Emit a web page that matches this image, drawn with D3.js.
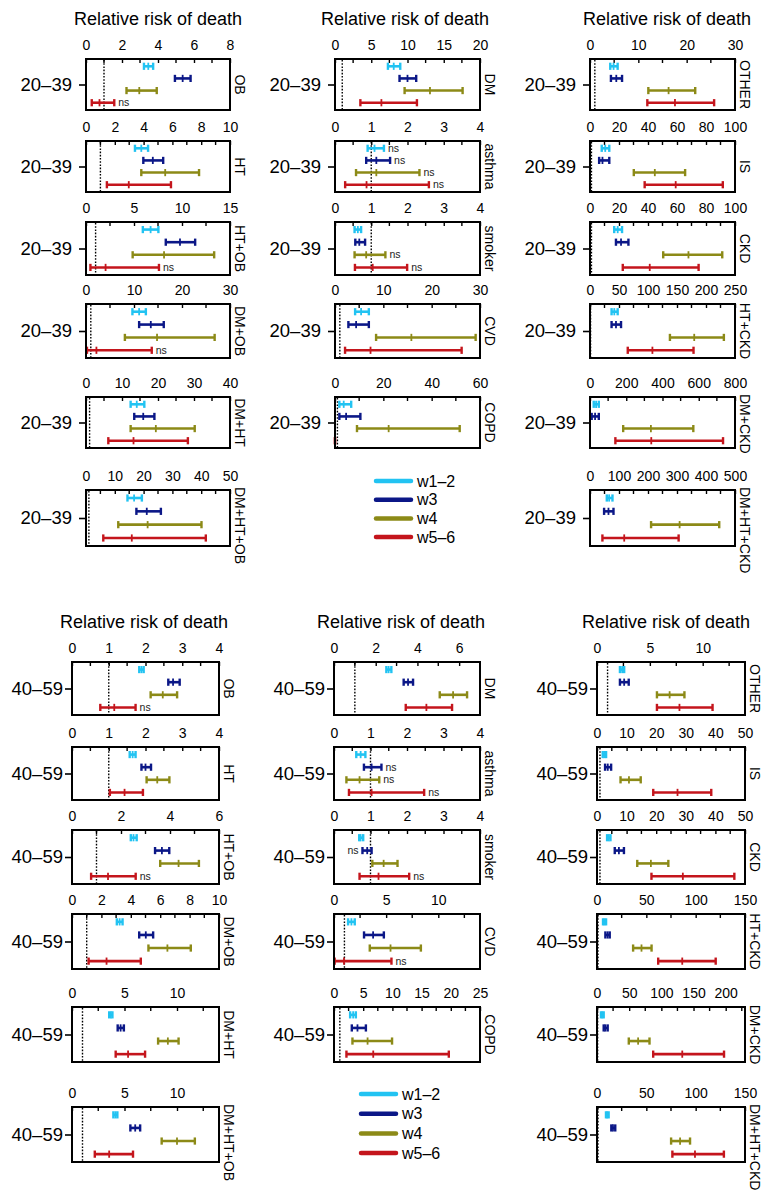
<!DOCTYPE html>
<html><head><meta charset="utf-8">
<script src="https://cdn.jsdelivr.net/npm/d3@7"></script>
<style>
body{margin:0;background:#fff;}
svg text{font-family:"Liberation Sans", Arial, Helvetica, sans-serif;}
</style></head><body>
<svg id="c" width="775" height="1201"></svg>
<script>
// ---------- DATA ----------
const series = ["w1–2","w3","w4","w5–6"];
const seriesColors = ["#22c3f2","#0b1787","#8c8a17","#c4151c"];
const ageGroups = ["20–39","40–59"];
const titleText = "Relative risk of death";

const leftConds  = ["OB","HT","HT+OB","DM+OB","DM+HT","DM+HT+OB"];
const midConds   = ["DM","asthma","smoker","CVD","COPD"];
const rightConds = ["OTHER","IS","CKD","HT+CKD","DM+CKD","DM+HT+CKD"];

// axis maxima and tick steps
const leftMaxYoung  = [8,10,15,30,40,50];   const leftStepYoung  = [2,2,5,10,10,10];
const midMaxYoung   = [20,4,4,30,60];       const midStepYoung   = [5,1,1,10,20];
const rightMaxYoung = [30,100,100,250,800,500]; const rightStepYoung = [10,20,20,50,200,100];
const leftMaxOld    = [4,4,6,10,14,14];     const leftStepOld    = [1,1,2,2,5,5];
const midMaxOld     = [7,4,4,14,25];        const midStepOld     = [2,1,1,5,5];
const rightMaxOld   = [14,50,50,150,230,150]; const rightStepOld = [5,10,10,50,50,50];

// [low, estimate, high] for w1–2, w3, w4, w5–6
const leftYoung = [
  [[3.22,3.46,3.73],[4.94,5.37,5.81],[2.25,2.96,3.93],[0.32,0.75,1.57]],
  [[3.40,3.84,4.31],[3.98,4.64,5.36],[3.84,5.50,7.85],[1.45,2.97,5.90]],
  [[5.92,6.73,7.54],[8.31,9.79,11.37],[4.86,8.13,13.35],[0.46,2.04,7.60]],
  [[9.67,11.07,12.47],[11.07,13.5,16.2],[8.1,14.8,26.8],[0.2,2.17,13.7]],
  [[12.4,14.1,16.2],[13.4,15.9,19.0],[12.4,19.4,30.2],[6.2,13.2,28.3]],
  [[14.4,16.7,19.4],[17.5,21.1,26.0],[11.2,21.4,40.1],[6.0,15.9,41.6]]
];
const midYoung = [
  [[7.3,8.1,9.0],[8.9,10.0,11.2],[9.6,13.1,17.6],[3.5,6.4,11.3]],
  [[0.90,1.09,1.35],[0.86,1.14,1.52],[0.58,1.14,2.33],[0.28,0.87,2.59]],
  [[0.54,0.63,0.72],[0.56,0.67,0.83],[0.54,0.86,1.39],[0.55,1.04,1.99]],
  [[4.16,5.4,7.0],[2.77,4.37,7.0],[8.5,15.8,29.1],[2.08,7.35,26.2]],
  [[1.8,3.6,6.7],[1.8,4.6,10.5],[9.1,22.2,51.6],[0,0,0]]
];
const rightYoung = [
  [[4.19,4.88,5.72],[4.33,5.44,6.63],[12.07,16.26,21.77],[11.86,17.58,25.68]],
  [[8.1,10.5,13.3],[6.3,8.6,13.3],[30.2,44.7,65.6],[37.7,59.1,91.6]],
  [[16.7,19.1,22.1],[17.9,21.4,26.5],[50.5,67.9,91.2],[22.6,41.2,74.9]],
  [[37.2,41.9,47.7],[37.2,44.8,53.5],[137.8,179.7,230.8],[65.1,107.6,178.5]],
  [[20.6,33.6,48.6],[9.3,28,48.6],[183,336,570],[140,338,734]],
  [[57.9,66,77.5],[48.6,63.7,81],[210.6,309,445.6],[42.8,118,305.6]]
];
const leftOld = [
  [[1.83,1.89,1.95],[2.62,2.75,2.93],[2.14,2.47,2.86],[0.77,1.15,1.73]],
  [[1.57,1.65,1.73],[1.89,2.0,2.15],[2.03,2.32,2.65],[1.03,1.43,1.93]],
  [[2.4,2.51,2.64],[3.39,3.67,3.97],[3.6,4.35,5.18],[0.78,1.47,2.6]],
  [[3.05,3.24,3.44],[4.57,5.02,5.52],[5.2,6.49,8.08],[1.13,2.35,4.68]],
  [[3.54,3.70,3.85],[4.35,4.63,4.94],[8.2,9.13,10.15],[4.16,5.34,6.96]],
  [[3.94,4.13,4.32],[5.56,6.02,6.49],[8.54,10.0,11.7],[2.17,3.54,5.81]]
];
const midOld = [
  [[2.51,2.62,2.75],[3.34,3.55,3.79],[5.07,5.71,6.38],[3.44,4.43,5.66]],
  [[0.61,0.73,0.86],[0.82,1.03,1.30],[0.34,0.70,1.24],[0.41,1.03,2.47]],
  [[0.69,0.73,0.80],[0.78,0.91,1.03],[1.05,1.36,1.74],[0.70,1.22,2.06]],
  [[1.35,1.67,1.99],[2.88,3.75,4.78],[3.43,5.42,8.33],[0.06,0.96,5.51]],
  [[2.76,3.28,3.74],[3.05,4.02,5.46],[3.16,5.75,9.94],[2.13,6.72,19.66]]
];
const rightOld = [
  [[2.17,2.38,2.57],[2.17,2.57,3.0],[5.67,6.87,8.27],[5.67,7.8,10.93]],
  [[1.93,2.5,3.07],[2.73,3.64,4.77],[7.95,10.8,14.77],[19.0,27.2,38.6]],
  [[3.41,3.98,4.55],[6.0,7.4,9.1],[13.6,18.2,24.1],[18.4,29.0,46.4]],
  [[6.1,7.5,9.2],[8.5,10.8,12.9],[36.6,45.1,55.3],[62,86.4,120.3]],
  [[6.2,8.3,10.4],[10.4,13.0,16.6],[49.4,63.9,81.6],[87.3,132.5,197.4]],
  [[9.1,10.4,11.8],[14.5,16.2,18.5],[75.1,84.2,94.3],[76.4,99.3,128.6]]
];
// "ns" markers: 1 = right of bar, -1 = left of bar, 0 = none
const leftYoungNs  = [[0,0,0,1],[0,0,0,0],[0,0,0,1],[0,0,0,1],[0,0,0,0],[0,0,0,0]];
const midYoungNs   = [[0,0,0,0],[1,1,1,1],[0,0,1,1],[0,0,0,0],[0,0,0,0]];
const rightYoungNs = [[0,0,0,0],[0,0,0,0],[0,0,0,0],[0,0,0,0],[0,0,0,0],[0,0,0,0]];
const leftOldNs    = [[0,0,0,1],[0,0,0,0],[0,0,0,1],[0,0,0,0],[0,0,0,0],[0,0,0,0]];
const midOldNs     = [[0,0,0,0],[0,1,1,1],[0,-1,0,1],[0,0,0,1],[0,0,0,0]];
const rightOldNs   = [[0,0,0,0],[0,0,0,0],[0,0,0,0],[0,0,0,0],[0,0,0,0],[0,0,0,0]];

// ---------- LAYOUT ----------
const layoutYoung = {titleY:25, titleX:[158,405,667], cols:[[86,230],[335,480],[590,735]],
  tops:[59,141,222,304,397,490], heights:[51,51,53,54,51,56], labelGap:7,
  legendX:[376,411,417], legendY:481, legendStep:18.7};
const layoutOld = {titleY:628, titleX:[144,401,666], cols:[[72,219],[334,480],[597,745]],
  tops:[662,747,830,914,1007,1107], heights:[53,53,54,55,55,55], labelGap:2,
  legendX:[361,396,402], legendY:1094, legendStep:19.7};

const svg = d3.select("#c");

function drawPanel(x0, x1, top, h, max, step, data, ns, cond, age, labelGap){
  const g = svg.append("g");
  const x = d3.scaleLinear().domain([0,max]).range([x0,x1]);
  const y = d3.scalePoint().domain(d3.range(series.length)).range([top, top+h]).padding(0.6);
  const yc = d3.scalePoint().domain([age]).range([top, top+h]).padding(0.5);

  // minor ticks
  const minors = d3.range(step/2, max+1e-9, step);
  g.selectAll("line.minor").data(minors).join("line")
    .attr("x1", d=>x(d)).attr("x2", d=>x(d)).attr("y1", top).attr("y2", top+4)
    .attr("stroke","#000").attr("stroke-width",1.4);

  // top axis
  const ax = d3.axisTop(x).tickValues(d3.range(0, max+1e-9, step))
    .tickSizeInner(-4).tickSizeOuter(0).tickPadding(9).tickFormat(d3.format("~g"));
  g.append("g").attr("transform",`translate(0,${top})`).call(ax)
    .call(a=>a.select(".domain").remove())
    .call(a=>a.attr("font-family",null).attr("font-size",null))
    .call(a=>a.selectAll("text").attr("font-size",14).attr("fill","#000"))
    .call(a=>a.selectAll("line").attr("stroke-width",1.4));

  // left axis (age group)
  const ay = d3.axisLeft(yc).tickSizeInner(7).tickSizeOuter(0).tickPadding(labelGap);
  g.append("g").attr("transform",`translate(${x0},0)`).call(ay)
    .call(a=>a.select(".domain").remove())
    .call(a=>a.attr("font-family",null).attr("font-size",null))
    .call(a=>a.selectAll("text").attr("font-size",18.5).attr("fill","#000"))
    .call(a=>a.selectAll("line").attr("stroke-width",1.6));

  // reference line at RR = 1
  g.append("line").attr("x1",x(1)).attr("x2",x(1)).attr("y1",top+1).attr("y2",top+h-1)
    .attr("stroke","#000").attr("stroke-width",1.4).attr("stroke-dasharray","1.6,1.6");

  // error bars
  data.forEach((d,i)=>{
    const yy = y(i), c = seriesColors[i];
    g.append("line").attr("x1",x(d[0])).attr("x2",x(d[2])).attr("y1",yy).attr("y2",yy)
      .attr("stroke",c).attr("stroke-width",2.6);
    [d[0],d[2]].forEach(v=>{
      g.append("line").attr("x1",x(v)).attr("x2",x(v)).attr("y1",yy-3.6).attr("y2",yy+3.6)
        .attr("stroke",c).attr("stroke-width",2.4);
    });
    g.append("line").attr("x1",x(d[1])).attr("x2",x(d[1])).attr("y1",yy-3.6).attr("y2",yy+3.6)
      .attr("stroke",c).attr("stroke-width",1.8);
    if (ns[i] === 1) {
      g.append("text").attr("x",x(d[2])+4).attr("y",yy).attr("dy","0.35em")
        .attr("font-size",10.5).attr("fill","#222").text("ns");
    } else if (ns[i] === -1) {
      g.append("text").attr("x",x(d[0])-4).attr("y",yy).attr("dy","0.35em")
        .attr("text-anchor","end").attr("font-size",10.5).attr("fill","#222").text("ns");
    }
  });

  // box
  g.append("rect").attr("x",x0).attr("y",top).attr("width",x1-x0).attr("height",h)
    .attr("fill","none").attr("stroke","#000").attr("stroke-width",2);

  // condition label (rotated)
  const lab = g.append("text").attr("font-size",14).attr("fill","#000").text(cond);
  const len = lab.node().getComputedTextLength();
  const ys = Math.max(top - 3, top + h/2 - len/2);
  lab.attr("transform",`translate(${x1+5},${ys}) rotate(90)`);
}

function drawHalf(L, age, cols){
  cols.forEach((col, ci)=>{
    svg.append("text").attr("x",L.titleX[ci]).attr("y",L.titleY).attr("text-anchor","middle")
      .attr("font-size",18).attr("fill","#000").text(titleText);
    col.conds.forEach((cond, k)=>{
      drawPanel(L.cols[ci][0], L.cols[ci][1], L.tops[k], L.heights[k],
        col.max[k], col.step[k], col.data[k], col.ns[k], cond, age, L.labelGap);
    });
  });
  // legend
  series.forEach((s,i)=>{
    const yy = L.legendY + i*L.legendStep;
    svg.append("line").attr("x1",L.legendX[0]).attr("x2",L.legendX[1]).attr("y1",yy).attr("y2",yy)
      .attr("stroke",seriesColors[i]).attr("stroke-width",4.5).attr("stroke-linecap","round");
    svg.append("text").attr("x",L.legendX[2]).attr("y",yy).attr("dy","0.35em")
      .attr("font-size",16).attr("fill","#000").text(s);
  });
}

drawHalf(layoutYoung, ageGroups[0], [
  {conds:leftConds, max:leftMaxYoung, step:leftStepYoung, data:leftYoung, ns:leftYoungNs},
  {conds:midConds, max:midMaxYoung, step:midStepYoung, data:midYoung, ns:midYoungNs},
  {conds:rightConds, max:rightMaxYoung, step:rightStepYoung, data:rightYoung, ns:rightYoungNs}
]);
drawHalf(layoutOld, ageGroups[1], [
  {conds:leftConds, max:leftMaxOld, step:leftStepOld, data:leftOld, ns:leftOldNs},
  {conds:midConds, max:midMaxOld, step:midStepOld, data:midOld, ns:midOldNs},
  {conds:rightConds, max:rightMaxOld, step:rightStepOld, data:rightOld, ns:rightOldNs}
]);
</script>
</body></html>
